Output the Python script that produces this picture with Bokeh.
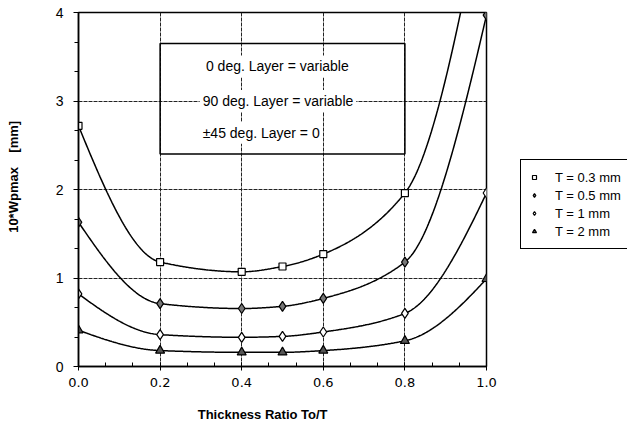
import numpy as np
from bokeh.plotting import figure
from bokeh.layouts import row
from bokeh.models import (Range1d, SingleIntervalTicker, PrintfTickFormatter,
                          Legend, LegendItem, BoxAnnotation, Label)
from bokeh.embed import file_html
from bokeh.resources import INLINE

# ---- data ----
ratio = [0.0, 0.2, 0.4, 0.5, 0.6, 0.8, 1.0]
w_t03 = [2.72, 1.18, 1.07, 1.13, 1.27, 1.96, 5.5]
w_t05 = [1.63, 0.71, 0.655, 0.68, 0.77, 1.18, 3.97]
w_t1 = [0.82, 0.36, 0.33, 0.34, 0.39, 0.60, 1.96]
w_t2 = [0.41, 0.18, 0.16, 0.16, 0.18, 0.29, 0.99]
series_labels = ["T = 0.3 mm", "T = 0.5 mm", "T = 1 mm", "T = 2 mm"]
box_texts = ["0 deg. Layer = variable", "90 deg. Layer = variable", "\u00b145 deg. Layer = 0"]


def pchip(x, y, xs):
    x = np.asarray(x, float)
    y = np.asarray(y, float)
    h = np.diff(x)
    d = np.diff(y) / h
    n = len(x)
    m = np.zeros(n)
    for k in range(1, n - 1):
        if d[k - 1] * d[k] <= 0:
            m[k] = 0.0
        else:
            w1 = 2 * h[k] + h[k - 1]
            w2 = h[k] + 2 * h[k - 1]
            m[k] = (w1 + w2) / (w1 / d[k - 1] + w2 / d[k])

    def end(h0, h1, d0, d1):
        v = ((2 * h0 + h1) * d0 - h0 * d1) / (h0 + h1)
        if np.sign(v) != np.sign(d0):
            v = 0.0
        elif np.sign(d0) != np.sign(d1) and abs(v) > abs(3 * d0):
            v = 3 * d0
        return v

    m[0] = end(h[0], h[1], d[0], d[1])
    m[-1] = end(h[-1], h[-2], d[-1], d[-2])
    idx = np.clip(np.searchsorted(x, xs) - 1, 0, n - 2)
    t = (xs - x[idx]) / h[idx]
    h00 = 2 * t**3 - 3 * t**2 + 1
    h10 = t**3 - 2 * t**2 + t
    h01 = -2 * t**3 + 3 * t**2
    h11 = t**3 - t**2
    return h00 * y[idx] + h10 * h[idx] * m[idx] + h01 * y[idx + 1] + h11 * h[idx] * m[idx + 1]


p = figure(width=500, height=424, output_backend="svg", toolbar_location=None,
           x_range=Range1d(0, 1), y_range=Range1d(0, 4),
           min_border_left=78, min_border_right=14, min_border_top=12, min_border_bottom=58)
p.background_fill_color = "white"
p.border_fill_color = "white"
p.outline_line_color = "black"
p.outline_line_width = 1.5

# axes
p.xaxis.ticker = SingleIntervalTicker(interval=0.2, num_minor_ticks=3)
p.yaxis.ticker = SingleIntervalTicker(interval=1, num_minor_ticks=3)
p.xaxis.formatter = PrintfTickFormatter(format="%.1f")
p.yaxis.formatter = PrintfTickFormatter(format="%d")
for ax in (p.xaxis, p.yaxis):
    ax.axis_line_color = "black"
    ax.axis_line_width = 1.5
    ax.major_tick_line_color = "black"
    ax.minor_tick_line_color = "black"
    ax.major_label_text_color = "black"
    ax.axis_label_text_color = "black"
    ax.axis_label_text_font = "Liberation Sans"
    ax.axis_label_text_font_style = "bold"
    ax.axis_label_text_font_size = "13px"
p.xaxis.major_tick_out = 4
p.xaxis.major_tick_in = 4
p.xaxis.minor_tick_in = 4
p.xaxis.minor_tick_out = 0
p.yaxis.major_tick_out = 5
p.yaxis.major_tick_in = 0
p.yaxis.minor_tick_out = 4
p.yaxis.minor_tick_in = 0
p.xaxis.major_label_text_font = "DejaVu Sans"
p.xaxis.major_label_text_font_size = "13px"
p.xaxis.major_label_standoff = 7
p.yaxis.major_label_text_font = "Liberation Sans"
p.yaxis.major_label_text_font_size = "14px"
p.yaxis.major_label_standoff = 10
p.xaxis.axis_label = "Thickness Ratio To/T" + "\u00a0" * 11
p.xaxis.axis_label_standoff = 17
p.yaxis.axis_label = "\u00a0" * 7 + "10*Wpmax\u00a0\u00a0\u00a0\u00a0[mm]"
p.yaxis.axis_label_standoff = 32

p.xgrid.grid_line_color = "#222222"
p.ygrid.grid_line_color = "#222222"
p.xgrid.grid_line_width = 1
p.ygrid.grid_line_width = 1
p.xgrid.grid_line_dash = "4 1"
p.ygrid.grid_line_dash = "4 1"

# annotation box
p.add_layout(BoxAnnotation(left=0.2, right=0.8, bottom=2.4, top=3.65,
                           fill_alpha=0, line_color="black", line_alpha=1, line_width=1.5))
for txt, tx, ty in zip(box_texts, [0.305, 0.297, 0.297], [3.39, 3.0, 2.64]):
    p.add_layout(Label(x=tx, y=ty, text=txt, text_font="Liberation Sans",
                       text_font_size="14px", text_baseline="middle", text_color="black",
                       background_fill_color="white", padding=3))

# curves and markers
xs = np.linspace(0, 1, 401)
series = [w_t03, w_t05, w_t1, w_t2]
markers = ["square", "diamond", "diamond", "triangle"]
fills = ["white", "#777777", "white", "#555555"]
sizes = [7, 10, 10, 9]
for vals, mk, fc, sz in zip(series, markers, fills, sizes):
    p.line(xs, pchip(ratio, vals, xs), line_color="black", line_width=1.5)
    p.scatter(ratio, vals, marker=mk, size=sz, fill_color=fc,
              line_color="black", line_width=1.2)

# legend panel (separate figure to the right of the plot); its renderers use the
# same data but the view range keeps the points out of sight
p2 = figure(width=127, height=424, output_backend="svg", toolbar_location=None,
            x_range=Range1d(2, 3), y_range=Range1d(2, 3),
            min_border_left=0, min_border_right=0, min_border_top=0, min_border_bottom=0)
p2.axis.visible = False
p2.grid.visible = False
p2.outline_line_color = None
p2.background_fill_color = "white"
p2.border_fill_color = "white"
items = []
for vals, mk, fc, sz, lab in zip(series, markers, fills, sizes, series_labels):
    r = p2.scatter(ratio, vals, marker=mk, size=sz - 2, fill_color=fc,
                   line_color="black", line_width=1.2)
    items.append(LegendItem(label=lab, renderers=[r]))
legend = Legend(items=items, location=(20, 117), padding=8, spacing=0,
                glyph_width=10, glyph_height=18, label_height=18, label_standoff=16,
                label_text_font="Liberation Sans", label_text_font_size="13px",
                label_text_color="black",
                border_line_color="black", border_line_alpha=1, border_line_width=1.5,
                background_fill_color="white", background_fill_alpha=1, margin=0)
p2.add_layout(legend)

layout = row(p, p2, spacing=0)
open("out.html", "w").write(file_html(layout, INLINE))
